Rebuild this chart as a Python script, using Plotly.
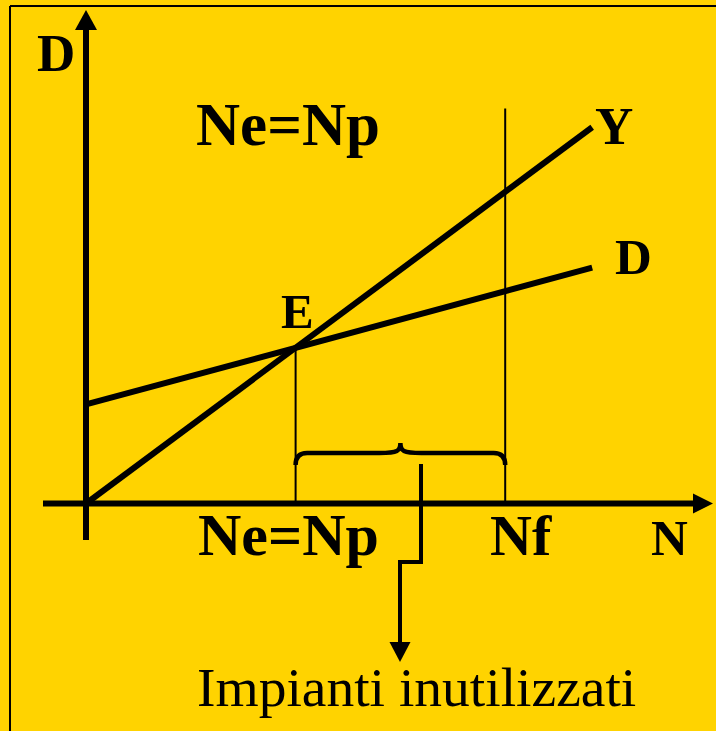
import plotly.graph_objects as go

# ---------------- data ----------------
N_line = [0.0, 9.66]          # N range of the two schedules
Y_line = [0.0, 7.18]          # Y (income) schedule
D_line = [1.89, 4.50]         # D (demand) schedule
Ne = 4.0                      # Ne = Np (equilibrium)
E_val = 2.97                  # value at E
Nf = 8.0                      # full employment
Nf_top = 7.54                 # top of the Nf reference line

text_labels = {
    "D_axis": "D", "top_eq": "Ne=Np", "Y": "Y", "D": "D", "E": "E",
    "Ne_tick": "Ne=Np", "Nf_tick": "Nf", "N_axis": "N",
    "callout": "Impianti inutilizzati",
}

# ---------------- geometry helpers (pixel -> data) ----------------
W, H = 716, 731
X0, Y0 = 86, 503.5
PPU = 52.4
def dx(p): return (p - X0) / PPU
def dy(p): return (Y0 - p) / PPU

BG = "#FFD300"
INK = "black"
SERIF = "Liberation Serif, Times New Roman, serif"

fig = go.Figure()
fig.add_trace(go.Scatter(x=N_line, y=Y_line, mode="lines",
                         line=dict(color=INK, width=6), hoverinfo="skip"))
fig.add_trace(go.Scatter(x=N_line, y=D_line, mode="lines",
                         line=dict(color=INK, width=6), hoverinfo="skip"))

shapes = []
def line(x0, y0, x1, y1, w, ref="x"):
    shapes.append(dict(type="line", xref=ref, yref=ref.replace("x", "y"),
                       x0=x0, y0=y0, x1=x1, y1=y1,
                       line=dict(color=INK, width=w)))
def tri(pts):
    p = "M " + " L ".join(f"{a},{b}" for a, b in pts) + " Z"
    shapes.append(dict(type="path", xref="x", yref="y", path=p,
                       fillcolor=INK, line=dict(color=INK, width=0)))

# frame (top + left)
shapes.append(dict(type="line", xref="paper", yref="paper",
                   x0=10 / W, y0=1 - 6 / H, x1=1, y1=1 - 6 / H,
                   line=dict(color=INK, width=2)))
shapes.append(dict(type="line", xref="paper", yref="paper",
                   x0=10 / W, y0=0, x1=10 / W, y1=1 - 6 / H,
                   line=dict(color=INK, width=2)))

# axes with arrows
line(dx(43), 0, dx(694), 0, 6)
tri([(dx(693), dy(493.5)), (dx(713), 0), (dx(693), dy(513.5))])
line(0, dy(540), 0, dy(29), 6)
tri([(dx(75), dy(30)), (0, dy(10)), (dx(97), dy(30))])

# reference verticals
line(Ne, 0, Ne, E_val, 2)
line(Nf, 0, Nf, Nf_top, 2)

# brace between Ne and Nf
mid = (Ne + Nf) / 2
yb, ye, yt = dy(453), dy(465), dy(443)
r = 0.22
brace = (f"M {Ne},{ye} Q {Ne},{yb} {Ne + r},{yb} "
         f"L {mid - 0.4},{yb} C {mid - 0.05},{yb} {mid},{dy(451)} {mid},{yt} "
         f"C {mid},{dy(451)} {mid + 0.05},{yb} {mid + 0.4},{yb} "
         f"L {Nf - r},{yb} Q {Nf},{yb} {Nf},{ye}")
shapes.append(dict(type="path", xref="x", yref="y", path=brace,
                   line=dict(color=INK, width=4.5)))

# callout arrow
callout = (f"M {dx(421)},{dy(464)} L {dx(421)},{dy(562)} "
           f"L {dx(400)},{dy(562)} L {dx(400)},{dy(643)}")
shapes.append(dict(type="path", xref="x", yref="y", path=callout,
                   line=dict(color=INK, width=4)))
tri([(dx(389.5), dy(642)), (dx(400), dy(662)), (dx(410.5), dy(642))])

# ---------------- text ----------------
anns = []
def label(key, px, py, size, bold=True):
    t = text_labels[key]
    anns.append(dict(x=px / W, y=1 - py / H, xref="paper", yref="paper",
                     text=f"<b>{t}</b>" if bold else t, showarrow=False,
                     xanchor="center", yanchor="middle",
                     font=dict(family=SERIF, size=size, color=INK)))

label("D_axis", 56, 53, 53)
label("top_eq", 288, 125, 61)
label("Y", 614, 126, 53)
label("D", 633, 257, 51)
label("E", 297, 311, 49)
label("Ne_tick", 288, 535, 60)
label("Nf_tick", 521, 535, 58)
label("N_axis", 669, 538, 51)
label("callout", 417, 687, 55.5, bold=False)

fig.update_layout(
    width=W, height=H, margin=dict(l=0, r=0, t=0, b=0),
    paper_bgcolor=BG, plot_bgcolor=BG, showlegend=False,
    xaxis=dict(visible=False, range=[dx(0), dx(W)], fixedrange=True),
    yaxis=dict(visible=False, range=[dy(H), dy(0)], fixedrange=True),
    shapes=shapes, annotations=anns,
)
fig.write_html(
    "out.html",
    config={"displayModeBar": False},
    post_script="document.body.style.margin='0';document.body.style.background='%s';" % BG,
)
